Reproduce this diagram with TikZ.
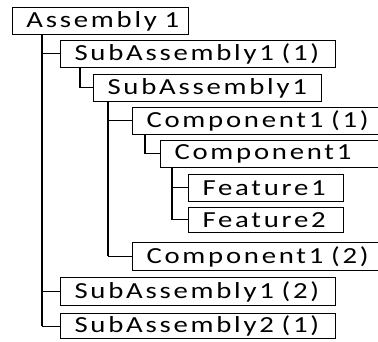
\documentclass[tikz,border=0pt]{standalone}
\usepackage{fontspec}
\setmainfont{Carlito}[LetterSpace=12, FakeStretch=1.25]
\begin{document}
\begin{tikzpicture}[x=1pt, y=-1pt, font=\fontsize{23}{23}\selectfont,
	box/.style={draw, line width=1pt, anchor=north west, inner xsep=14pt, inner ysep=0pt, align=left, minimum height=27pt},
	stem/.style={line width=2.2pt},
	twig/.style={line width=1pt}]
	\useasboundingbox (0,0) rectangle (378,342);
	\clip (0,0) rectangle (378,342);

	\node[box, text width=148pt] (asm) at (12,7) {\rlap{Assembly 1}};
	\node[box, text width=247pt] (sub11) at (60,40) {SubAssembly1 (1)};
	\node[box, text width=200pt] (sub1) at (93,74) {SubAssembly1};
	\node[box, text width=232pt] (comp11) at (132,107) {Component1 (1)};
	\node[box, text width=202pt] (comp1) at (160,140) {Component1};
	\node[box, text width=127pt] (feat1) at (188,174) {Feature1};
	\node[box, text width=127pt, minimum height=25pt] (feat2) at (188,207) {Feature2};
	\node[box, text width=232pt, minimum height=28pt] (comp12) at (132,242) {Component1 (2)};
	\node[box, text width=247pt, minimum height=28pt] (sub12) at (60,277) {SubAssembly1 (2)};
	\node[box, text width=247pt, minimum height=25pt] (sub21) at (60,313) {SubAssembly2 (1)};

	\foreach \p/\c/\dx in {asm/sub11/30, asm/sub12/30, asm/sub21/30, sub11/sub1/20, sub1/comp11/15,
		sub1/comp12/15, comp11/comp1/13, comp1/feat1/12, comp1/feat2/12} {
		\draw[stem] ([xshift=\dx]\p.south west) coordinate (s) -- (s |- \c.west);
		\draw[twig] (s |- \c.west) -- (\c.west);
	}
\end{tikzpicture}
\end{document}
